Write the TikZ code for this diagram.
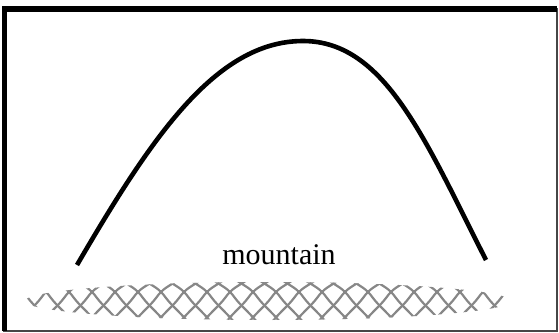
\documentclass[tikz,border=0pt]{standalone}
\usepackage{fontspec}
\setmainfont{Liberation Serif}
\definecolor{fencegray}{RGB}{135,135,135}
\definecolor{edgegray}{RGB}{70,70,70}
\tikzset{pix/.style={x=0.5pt,y=-0.5pt}}
\tikzset{hill/.style={black,line width=2.3pt,line cap=butt},
         fence/.style={fencegray,line width=1.1pt,line cap=round}}

\begin{document}
\begin{tikzpicture}[pix]
    \useasboundingbox (0,0) rectangle (559,333);
    % frame: thin right/bottom, heavy top/left
    \draw[edgegray,line width=0.6pt] (4,9) rectangle (557,331);
    \fill[black] (2,6) rectangle (557,12);
    \fill[black] (2,6) rectangle (7,331);
    % the mountain
    \draw[hill] (77,265) .. controls (150,140) and (215,41) .. (303,41)
                         .. controls (385,41) and (425,140) .. (486,260);
    \node[font=\fontsize{15}{18}\selectfont] (label) at (279,255) {mountain};
    % ground, fence-like hatch in a flat lens
    \begin{scope}
      \clip (268,301) ellipse (243 and 19);
      \foreach \x in {0,23,...,575} {
        \draw[fence] (\x-40,280) .. controls (\x-30,287) and (\x-25,288) .. (\x-18,298)
                                 .. controls (\x-12,306) and (\x-6,310) .. (\x+4,322);
        \draw[fence] (\x+40,280) .. controls (\x+30,287) and (\x+25,288) .. (\x+18,298)
                                 .. controls (\x+12,306) and (\x+6,310) .. (\x-4,322);
      }
    \end{scope}
\end{tikzpicture}
\end{document}
